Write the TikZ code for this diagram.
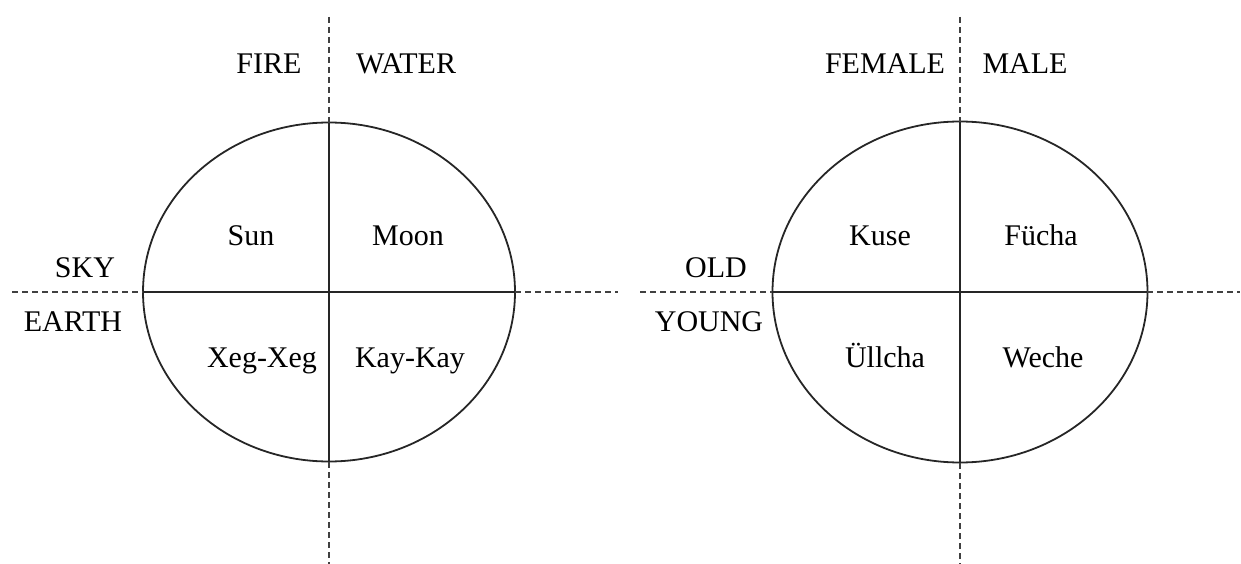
\documentclass[tikz,border=0pt]{standalone}
\usepackage{fontspec}
\setmainfont{Liberation Serif}
\begin{document}
\begin{tikzpicture}[x=1pt,y=-1pt,
  lbl/.style={anchor=base,inner sep=0pt,font=\fontsize{30}{36}\selectfont},
  oval/.style={line width=1.8pt,draw=black!85},
  axis/.style={line width=1.8pt,draw=black!85},
  dashaxis/.style={line width=1.8pt,draw=black!75,dash pattern=on 6pt off 4pt}]
\useasboundingbox (0,0) rectangle (1241,564);
% left diagram
\coordinate (Lc) at (329,292);
\coordinate (Lt) at (329,123);
\coordinate (Lb) at (329,462);
\coordinate (Ll) at (143,292);
\coordinate (Lr) at (515,292);
\coordinate (LT) at (329,17);
\coordinate (LB) at (329,564);
\coordinate (LL) at (12,292);
\coordinate (LR) at (618,292);
\draw[oval] (Lc) ellipse [x radius=186, y radius=169.5];
\draw[axis] (Lt) -- (Lb);
\draw[axis] (Ll) -- (Lr);
\draw[dashaxis] (LT) -- (Lt);
\draw[dashaxis] (Lb) -- (LB);
\draw[dashaxis] (LL) -- (Ll);
\draw[dashaxis] (Lr) -- (LR);
\node[lbl] (fire) at (269,74) {FIRE};
\node[lbl] (water) at (406,74) {WATER};
\node[lbl] (sky) at (85,277) {SKY};
\node[lbl] (earth) at (73,331) {EARTH};
\node[lbl] (sun) at (251,245) {Sun};
\node[lbl] (moon) at (408,245) {Moon};
\node[lbl] (xeg) at (262,367) {Xeg-Xeg};
\node[lbl] (kay) at (410,367) {Kay-Kay};
% right diagram
\coordinate (Rc) at (960,292);
\coordinate (Rt) at (960,122);
\coordinate (Rb) at (960,463);
\coordinate (Rl) at (772,292);
\coordinate (Rr) at (1147,292);
\coordinate (RT) at (960,17);
\coordinate (RB) at (960,564);
\coordinate (RL) at (640,292);
\coordinate (RR) at (1240,292);
\draw[oval] (Rc) ellipse [x radius=187.5, y radius=170.5];
\draw[axis] (Rt) -- (Rb);
\draw[axis] (Rl) -- (Rr);
\draw[dashaxis] (RT) -- (Rt);
\draw[dashaxis] (Rb) -- (RB);
\draw[dashaxis] (RL) -- (Rl);
\draw[dashaxis] (Rr) -- (RR);
\node[lbl] (female) at (885,74) {FEMALE};
\node[lbl] (male) at (1025,74) {MALE};
\node[lbl] (old) at (716,277) {OLD};
\node[lbl] (young) at (709,331) {YOUNG};
\node[lbl] (kuse) at (880,245) {Kuse};
\node[lbl] (fucha) at (1041,245) {Fücha};
\node[lbl] (ullcha) at (885,367) {Üllcha};
\node[lbl] (weche) at (1043,367) {Weche};
\end{tikzpicture}
\end{document}
